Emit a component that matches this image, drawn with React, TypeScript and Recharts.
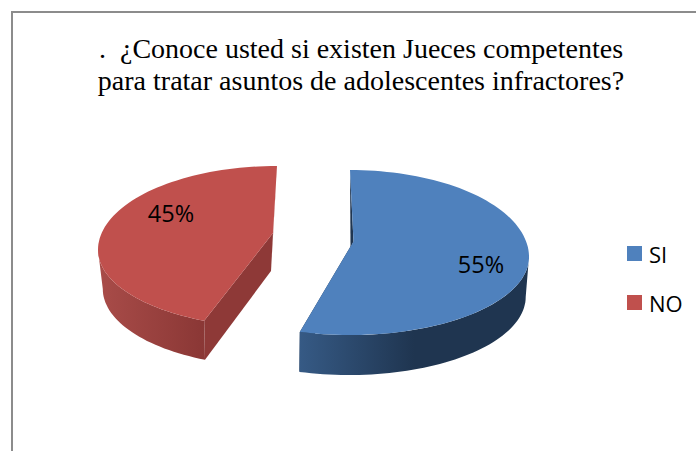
import React from 'react';
import { PieChart, Pie, Cell, Legend } from 'recharts';

const categories = ['SI', 'NO'];
const percents = [55, 45];
const titleLines = ['.  ¿Conoce usted si existen Jueces competentes', 'para tratar asuntos de adolescentes infractores?'];

const faceColors = ['#4f81bd', '#c0504d'];
const wallFills = ['url(#wallBlue)', 'url(#wallRed)'];
const cutColors = ['#1f3550', '#8e3937'];

const tableData = categories.map((name, i) => ({ name, value: percents[i] }));

// the Office-style 3D look: each slice gets its own explode offset and perspective tweaks
const slices = [
  { dx: 37.5, dy: 3.5, ryTop: 87, ryBot: 78, trimStart: 0, trimEnd: -1.7, apex: [3.5, -15.5], cutDown: [-3, 6], depth: 40, k: 0.987, shift: -1, label: [481, 264] },
  { dx: -35.5, dy: -3.5, ryTop: 84, ryBot: 77.5, trimStart: 6, trimEnd: 0, apex: [-4, -17], cutDown: [-2, 38], depth: 39, k: 0.962, shift: -2, label: [171, 213] },
];

const CX = 312.5;
const CY = 253.5;
const RADIUS = 179;

const rad = (d: number) => (d * Math.PI) / 180;

function rimPoint(s: any, x0: number, y0: number, rx: number, theta: number) {
  const c = Math.cos(rad(theta));
  const ry = c >= 0 ? s.ryTop : s.ryBot;
  return [x0 + rx * Math.sin(rad(theta)), y0 - ry * c];
}

function rimPoints(s: any, x0: number, y0: number, rx: number, from: number, to: number) {
  const pts: number[][] = [];
  const n = Math.max(2, Math.ceil((to - from) / 2));
  for (let i = 0; i <= n; i++) pts.push(rimPoint(s, x0, y0, rx, from + ((to - from) * i) / n));
  return pts;
}

const toPath = (pts: number[][]) => 'M' + pts.map((p) => `${p[0].toFixed(1)},${p[1].toFixed(1)}`).join('L') + 'Z';

function Slice3D(props: any) {
  const { cx, cy, outerRadius, startAngle, endAngle, index } = props;
  const s = slices[index];
  const x0 = cx + s.dx;
  const y0 = cy + s.dy;
  const t0 = 90 - startAngle + s.trimStart;
  const t1 = 90 - endAngle + s.trimEnd;
  const apex = [x0 + s.apex[0], y0 + s.apex[1]];
  const apexDown = [apex[0] + s.cutDown[0], apex[1] + s.cutDown[1]];

  const rim = rimPoints(s, x0, y0, outerRadius, t0, t1);
  const from = Math.max(90, t0);
  const to = Math.min(270, t1);
  const wallTop = rimPoints(s, x0, y0, outerRadius, from, to);
  const wallBottom = rimPoints(s, x0 + s.shift, y0 + s.depth, outerRadius * s.k, from, to).reverse();

  const topPoint = index === 0 ? rim[0] : rim[rim.length - 1];
  const corner = index === 0 ? rim[rim.length - 1] : rim[0];
  const cornerDown = index === 0 ? wallBottom[0] : wallBottom[wallBottom.length - 1];

  return (
    <g>
      <path d={toPath([topPoint, apex, apexDown])} fill={cutColors[index]} />
      <path d={toPath([corner, apex, apexDown, cornerDown])} fill={cutColors[index]} />
      <path d={toPath([...wallTop, ...wallBottom])} fill={wallFills[index]} />
      <path d={toPath([apex, ...rim])} fill={faceColors[index]} />
    </g>
  );
}

function renderLabel(props: any) {
  const s = slices[props.index];
  return (
    <text x={s.label[0]} y={s.label[1]} textAnchor="middle" dominantBaseline="central" fontFamily="Open Sans" fontSize={23.5} fill="#000">
      {props.value}%
    </text>
  );
}

function LegendBox() {
  return (
    <div style={{ fontFamily: 'Open Sans', fontSize: 22, color: '#000' }}>
      {categories.map((name, i) => (
        <div key={name} style={{ display: 'flex', alignItems: 'center', height: 49 }}>
          <span style={{ width: 15, height: 15, background: faceColors[i], marginRight: 7 }} />
          <span>{name}</span>
        </div>
      ))}
    </div>
  );
}

export default function App() {
  return (
    <div style={{ position: 'absolute', left: 0, top: 0, width: 696, height: 451, overflow: 'hidden', background: '#fff' }}>
      <div style={{ position: 'absolute', left: 11, top: 11, width: 800, height: 600, border: '2px solid #8c8c8c' }} />
      <PieChart width={696} height={451} margin={{ top: 0, right: 0, bottom: 0, left: 0 }} style={{ position: 'absolute', left: 0, top: 0 }}>
        <defs>
          <linearGradient id="wallBlue" x1="0" y1="0" x2="1" y2="0">
            <stop offset="0%" stopColor="#365a85" />
            <stop offset="50%" stopColor="#1f3550" />
            <stop offset="100%" stopColor="#1f3550" />
          </linearGradient>
          <linearGradient id="wallRed" x1="0" y1="0" x2="1" y2="0">
            <stop offset="0%" stopColor="#a94c49" />
            <stop offset="100%" stopColor="#8a3735" />
          </linearGradient>
        </defs>
        {titleLines.map((line, i) => (
          <text key={i} x={361} y={58 + i * 32} textAnchor="middle" fontFamily="Liberation Serif" fontSize={28} fill="#000" xmlSpace="preserve">
            {line}
          </text>
        ))}
        <Pie
          data={tableData}
          dataKey="value"
          nameKey="name"
          cx={CX}
          cy={CY}
          innerRadius={0}
          outerRadius={RADIUS}
          startAngle={90}
          endAngle={-270}
          stroke="none"
          labelLine={false}
          label={renderLabel}
          shape={Slice3D}
          isAnimationActive={false}
        >
          {tableData.map((d, i) => (
            <Cell key={d.name} fill={faceColors[i]} />
          ))}
        </Pie>
        <Legend
          layout="vertical"
          content={<LegendBox />}
          wrapperStyle={{ position: 'absolute', left: 627, top: 229, width: 69, bottom: 'auto', right: 'auto' }}
        />
      </PieChart>
    </div>
  );
}
